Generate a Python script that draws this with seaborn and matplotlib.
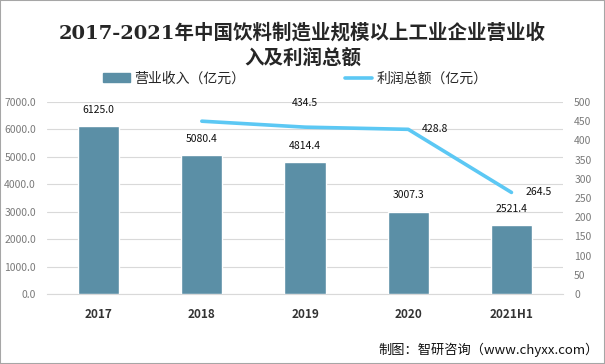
import numpy as np
import pandas as pd
import matplotlib
matplotlib.use('Agg')
import matplotlib.pyplot as plt
import seaborn as sns
from matplotlib.patches import Rectangle
from matplotlib.lines import Line2D

# data
years = ['2017', '2018', '2019', '2020', '2021H1']
revenue = [6125.0, 5080.4, 4814.4, 3007.3, 2521.4]
profit_years = ['2018', '2019', '2020', '2021H1']
profit = [450.0, 434.5, 428.8, 264.5]
profit_labels = ['', '434.5', '428.8', '264.5']

title = '2017-2021年中国饮料制造业规模以上工业企业营业收\n入及利润总额'
bar_name = '营业收入（亿元）'
line_name = '利润总额（亿元）'
source = '制图：智研咨询（www.chyxx.com）'

bar_color = '#5B8FA6'
line_color = '#5CC8F4'
tick_color = '#7a7a7a'

sns.set_style('white')
plt.rcParams['font.family'] = ['Noto Sans CJK SC', 'DejaVu Sans']

fig = plt.figure(figsize=(6.05, 3.64), dpi=100)
ax = fig.add_axes([0.0777, 0.1923, 0.853, 0.5275])

df = pd.DataFrame({'year': years, 'revenue': revenue})
sns.barplot(data=df, x='year', y='revenue', color=bar_color, width=0.4,
            saturation=1, ax=ax, zorder=3)
ax.set_ylim(0, 7000)
ax.set_yticks(np.arange(0, 7001, 1000))
ax.set_yticklabels([f'{v:.1f}' for v in np.arange(0, 7001, 1000)])
ax.set_xlim(-0.5, 4.5)
ax.grid(axis='y', color='#d9d9d9', linewidth=0.8, zorder=0)
ax.set_axisbelow(True)
for s in ['top', 'left', 'right']:
    ax.spines[s].set_visible(False)
ax.spines['bottom'].set_color('#d9d9d9')
ax.set_xlabel('')
ax.set_ylabel('')
ax.tick_params(axis='y', length=0, labelsize=7.5, labelcolor=tick_color, pad=8)
ax.tick_params(axis='x', length=0, pad=10)
for lbl in ax.get_xticklabels():
    lbl.set_fontweight('bold')
    lbl.set_fontsize(8.5)
    lbl.set_color('#333333')

for i, v in enumerate(revenue):
    ax.annotate(f'{v:.1f}', (i, v), xytext=(0, 8), textcoords='offset points',
                ha='center', va='bottom', fontsize=7.5, color='#111111')

ax2 = ax.twinx()
idx = [years.index(y) for y in profit_years]
pdf = pd.DataFrame({'pos': idx, 'profit': profit})
sns.lineplot(data=pdf, x='pos', y='profit', color=line_color, linewidth=2.6,
             ax=ax2, zorder=4)
ax2.set_ylim(0, 500)
ax2.set_yticks(np.arange(0, 501, 50))
ax2.set_xlim(-0.5, 4.5)
ax2.set_ylabel('')
for s in ['top', 'left', 'right', 'bottom']:
    ax2.spines[s].set_visible(False)
ax2.tick_params(axis='y', length=0, labelsize=7.5, labelcolor=tick_color, pad=8)

offsets = [(0, 0), (0, 14), (10, 0), (10, 0)]
aligns = [('center', 'bottom'), ('center', 'bottom'), ('left', 'center'), ('left', 'center')]
for (p, v, t, off, al) in zip(idx, profit, profit_labels, offsets, aligns):
    if t:
        ax2.annotate(t, (p, v), xytext=off, textcoords='offset points',
                     ha=al[0], va=al[1], fontsize=7.5, color='#111111')

fig.text(0.5, 0.875, title, ha='center', va='center', fontsize=14,
         fontweight='bold', color='#262626', linespacing=1.35,
         family=['DejaVu Serif', 'Noto Sans CJK SC'])

handles = [Rectangle((0, 0), 1, 1, color=bar_color),
           Line2D([0], [0], color=line_color, linewidth=2.6)]
fig.legend(handles, [bar_name, line_name], loc='center', bbox_to_anchor=(0.488, 0.785),
           ncol=2, frameon=False, fontsize=10, columnspacing=7.2,
           handlelength=1.95, handleheight=0.6, handletextpad=0.3)

fig.text(0.99, 0.04, source, ha='right', va='center', fontsize=9.5, color='#111111')

fig.patches.append(Rectangle((0.0, 0.0), 1, 1, transform=fig.transFigure,
                             fill=False, edgecolor='#a6a6a6', linewidth=1.5))

fig.savefig('out.png', dpi=100)
